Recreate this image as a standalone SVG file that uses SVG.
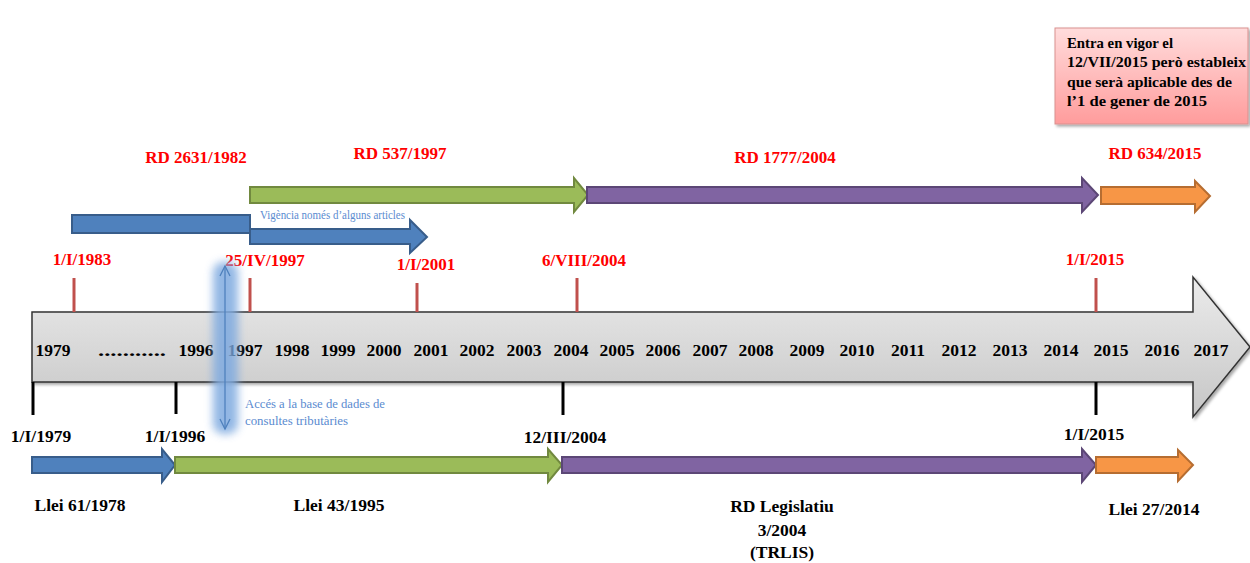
<svg xmlns="http://www.w3.org/2000/svg" width="1250" height="563" viewBox="0 0 1250 563">
<defs>
<style>
.red{font-family:"Liberation Serif",serif;font-weight:bold;font-size:17px;fill:#ff0000;text-anchor:middle}
.blk{font-family:"Liberation Serif",serif;font-weight:bold;font-size:17.5px;fill:#000;text-anchor:middle}
.yr{font-family:"Liberation Serif",serif;font-weight:bold;font-size:17.5px;fill:#000;text-anchor:middle}
.note{font-family:"Liberation Serif",serif;font-weight:bold;font-size:14.5px;fill:#000}
.small{font-family:"Liberation Serif",serif;font-size:11.5px;fill:#5a8bd0}
.rt{stroke:#c0504d;stroke-width:3}
.bt{stroke:#000;stroke-width:3}
.blue{fill:#4f81bd;stroke:#385d8a;stroke-width:2}
.green{fill:#9bbb59;stroke:#71893f;stroke-width:2}
.purple{fill:#8064a2;stroke:#5c4776;stroke-width:2}
.orange{fill:#f79646;stroke:#b66d31;stroke-width:2}
</style>
<linearGradient id="gray" x1="0" y1="0" x2="0" y2="1">
<stop offset="0" stop-color="#ebebeb"/>
<stop offset="1" stop-color="#c6c6c6"/>
</linearGradient>
<linearGradient id="pink" x1="0" y1="0" x2="0" y2="1">
<stop offset="0" stop-color="#ffdcdc"/>
<stop offset="1" stop-color="#ff9c9c"/>
</linearGradient>
<filter id="shadow" x="-5%" y="-10%" width="110%" height="130%">
<feDropShadow dx="2" dy="2" stdDeviation="1.5" flood-color="#000" flood-opacity="0.35"/>
</filter>
<filter id="blur" x="-100%" y="-20%" width="300%" height="140%">
<feGaussianBlur stdDeviation="4"/>
</filter>
</defs>
<rect width="1250" height="563" fill="#fff"/>

<g id="note">
<rect x="1055" y="28" width="193" height="96" fill="url(#pink)" stroke="#d9918f" stroke-width="1" filter="url(#shadow)"/>
<text class="note" x="1067" y="48" textLength="106" lengthAdjust="spacingAndGlyphs">Entra en vigor el</text>
<text class="note" x="1067" y="67" textLength="179" lengthAdjust="spacingAndGlyphs">12/VII/2015 però estableix</text>
<text class="note" x="1067" y="87" textLength="165" lengthAdjust="spacingAndGlyphs">que serà aplicable des de</text>
<text class="note" x="1067" y="106" textLength="140" lengthAdjust="spacingAndGlyphs">l’1 de gener de 2015</text>
</g>

<g id="timeline">
<polygon points="32,312 1193,312 1193,277 1250,347 1193,417 1193,382 32,382" fill="url(#gray)" stroke="#333" stroke-width="1.5" filter="url(#shadow)"/>
<text class="yr" x="53" y="356">1979</text>
<text class="yr" x="132" y="356" textLength="68" lengthAdjust="spacingAndGlyphs">...........</text>
<text class="yr" x="196" y="356">1996</text>
<text class="yr" x="245" y="356">1997</text>
<text class="yr" x="292" y="356">1998</text>
<text class="yr" x="338" y="356">1999</text>
<text class="yr" x="384" y="356">2000</text>
<text class="yr" x="431" y="356">2001</text>
<text class="yr" x="477" y="356">2002</text>
<text class="yr" x="524" y="356">2003</text>
<text class="yr" x="571" y="356">2004</text>
<text class="yr" x="617" y="356">2005</text>
<text class="yr" x="663" y="356">2006</text>
<text class="yr" x="710" y="356">2007</text>
<text class="yr" x="756" y="356">2008</text>
<text class="yr" x="807" y="356">2009</text>
<text class="yr" x="857" y="356">2010</text>
<text class="yr" x="908" y="356">2011</text>
<text class="yr" x="959" y="356">2012</text>
<text class="yr" x="1010" y="356">2013</text>
<text class="yr" x="1061" y="356">2014</text>
<text class="yr" x="1111" y="356">2015</text>
<text class="yr" x="1162" y="356">2016</text>
<text class="yr" x="1211" y="356">2017</text>
</g>

<g id="ticks">
<line class="rt" x1="74" y1="278" x2="74" y2="312"/>
<line class="rt" x1="250" y1="278" x2="250" y2="312"/>
<line class="rt" x1="417" y1="283" x2="417" y2="312"/>
<line class="rt" x1="577" y1="278" x2="577" y2="312"/>
<line class="rt" x1="1096" y1="278" x2="1096" y2="312"/>
<line class="bt" x1="33" y1="382" x2="33" y2="415"/>
<line class="bt" x1="176" y1="382" x2="176" y2="414"/>
<line class="bt" x1="563" y1="382" x2="563" y2="415"/>
<line class="bt" x1="1096" y1="382" x2="1096" y2="415"/>
</g>

<g id="top-labels">
<text class="red" x="196" y="163">RD 2631/1982</text>
<text class="red" x="400" y="159">RD 537/1997</text>
<text class="red" x="785" y="163">RD 1777/2004</text>
<text class="red" x="1155" y="159">RD 634/2015</text>
<text class="red" x="82" y="265">1/I/1983</text>
<text class="red" x="265" y="266">25/IV/1997</text>
<text class="red" x="426" y="270">1/I/2001</text>
<text class="red" x="584" y="266">6/VIII/2004</text>
<text class="red" x="1095" y="265">1/I/2015</text>
</g>

<g id="top-arrows">
<rect class="blue" x="72" y="215" width="178" height="18"/>
<polygon class="blue" points="250,229 410,229 410,220 427,237 410,253 410,244 250,244"/>
<text class="small" x="260" y="219" textLength="145" lengthAdjust="spacingAndGlyphs">Vigència només d’alguns articles</text>
<polygon class="green" points="250,187 574,187 574,178 588,195 574,212 574,203 250,203"/>
<polygon class="purple" points="587,187 1082,187 1082,178 1098,195 1082,212 1082,203 587,203"/>
<polygon class="orange" points="1101,187 1195,187 1195,181 1210,196 1195,212 1195,204 1101,204"/>
</g>

<g id="access">
<rect x="213" y="262" width="25" height="172" rx="10" fill="#7faae0" opacity="0.85" filter="url(#blur)"/>
<line x1="225" y1="266" x2="225" y2="429" stroke="#4f81bd" stroke-width="1.3"/>
<polyline points="220,276 225,266 230,276" fill="none" stroke="#4f81bd" stroke-width="1.3"/>
<polyline points="220,419 225,429 230,419" fill="none" stroke="#4f81bd" stroke-width="1.3"/>
<text class="small" x="245" y="408" textLength="140" lengthAdjust="spacingAndGlyphs">Accés a la base de dades de</text>
<text class="small" x="245" y="425" textLength="103" lengthAdjust="spacingAndGlyphs">consultes tributàries</text>
</g>

<g id="bottom-labels">
<text class="blk" x="41" y="442">1/I/1979</text>
<text class="blk" x="175" y="442">1/I/1996</text>
<text class="blk" x="565" y="443">12/III/2004</text>
<text class="blk" x="1094" y="440">1/I/2015</text>
<text class="blk" x="80" y="511">Llei 61/1978</text>
<text class="blk" x="339" y="511">Llei 43/1995</text>
<text class="blk" x="782" y="512">RD Legislatiu</text>
<text class="blk" x="782" y="536">3/2004</text>
<text class="blk" x="782" y="558">(TRLIS)</text>
<text class="blk" x="1154" y="515">Llei 27/2014</text>
</g>

<g id="bottom-arrows">
<polygon class="blue" points="32,457 162,457 162,449 175,465 162,482 162,473 32,473"/>
<polygon class="green" points="175,457 548,457 548,449 562,465 548,482 548,473 175,473"/>
<polygon class="purple" points="562,457 1082,457 1082,449 1096,465 1082,482 1082,473 562,473"/>
<polygon class="orange" points="1096,457 1178,457 1178,450 1193,465 1178,481 1178,473 1096,473"/>
</g>
</svg>
